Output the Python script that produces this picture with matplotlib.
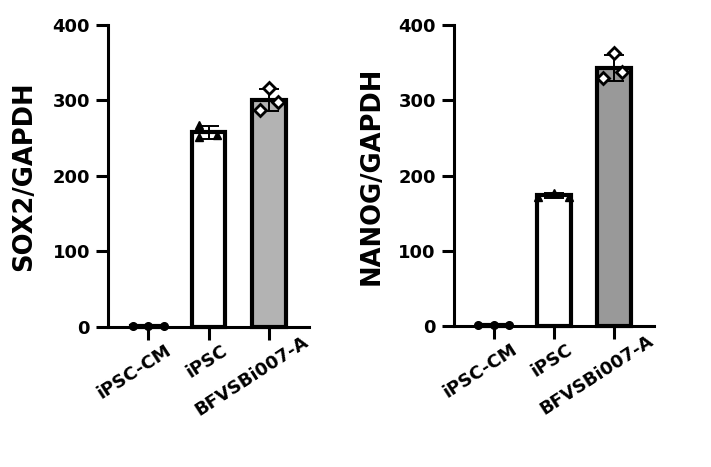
import numpy as np
import matplotlib
matplotlib.use("Agg")
import matplotlib.pyplot as plt

plt.rcParams['font.family'] = ['DejaVu Sans']
plt.rcParams['font.weight'] = 'bold'

# data
groups = ["iPSC-CM", "iPSC", "BFVSBi007-A"]
sox2_cm = [1.0, 0.8, 1.1]
sox2_ipsc = [268, 252, 254]
sox2_bfv = [287, 316, 298]
nanog_cm = [1.0, 0.9, 1.1]
nanog_ipsc = [172, 177, 172]
nanog_bfv = [329, 363, 337]
yticks = [0, 100, 200, 300, 400]

# styling
jitter_left = [[-0.25, 0.0, 0.26], [-0.15, -0.15, 0.14], [-0.15, 0.0, 0.15]]
jitter_right = [[-0.26, 0.0, 0.25], [-0.27, 0.0, 0.25], [-0.18, 0.0, 0.14]]
markers = [dict(marker='o', ms=5.5, mfc='black', mec='black'),
           dict(marker='^', ms=6, mfc='black', mec='black'),
           dict(marker='D', ms=6, mfc='white', mec='black', mew=2)]
label_shift = [(14.8, -14.8), (11.5, -14.8), (26.6, -8.5)]  # points, end of rotated label vs tick
label_angle = 33


def panel(ax, series, ylabel, grey, jitter):
    x = np.arange(len(groups))
    means = [np.mean(s) for s in series]
    sds = [np.std(s, ddof=1) for s in series]
    ax.bar(x, means, width=0.56, color=['white', 'white', grey],
           edgecolor='black', linewidth=3, zorder=2, clip_on=False)
    ax.errorbar(x, means, yerr=sds, fmt='none', ecolor='black',
                elinewidth=1.4, capsize=7, capthick=1.4, zorder=3)
    for i, s in enumerate(series):
        ax.plot(x[i] + np.array(jitter[i]), s, ls='none', zorder=4,
                clip_on=False, **markers[i])
    ax.set_xlim(-0.667, 2.667)
    ax.set_ylim(0, 400)
    ax.set_yticks(yticks)
    ax.set_xticks(x)
    ax.set_xticklabels([])
    for i, g in enumerate(groups):
        ax.annotate(g, xy=(x[i], 0), xycoords=ax.get_xaxis_transform(),
                    xytext=label_shift[i], textcoords='offset points',
                    ha='right', va='center_baseline', rotation=label_angle,
                    rotation_mode='anchor', fontsize=13, fontweight='bold')
    for side in ['top', 'right']:
        ax.spines[side].set_visible(False)
    for side in ['left', 'bottom']:
        ax.spines[side].set_linewidth(2.2)
    ax.tick_params(width=2.2, length=9, labelsize=13, pad=4)
    ax.set_ylabel(ylabel, fontsize=18.5, fontweight='bold', va='center')


fig = plt.figure(figsize=(7.11, 4.67), dpi=100)
ax1 = fig.add_axes([0.1519, 0.2998, 0.2827, 0.6467])
ax2 = fig.add_axes([0.6385, 0.3019, 0.2813, 0.6445])

panel(ax1, [sox2_cm, sox2_ipsc, sox2_bfv], "SOX2/GAPDH", '#b3b3b3', jitter_left)
panel(ax2, [nanog_cm, nanog_ipsc, nanog_bfv], "NANOG/GAPDH", '#999999', jitter_right)
ax1.yaxis.set_label_coords(-0.418, 0.5)
ax2.yaxis.set_label_coords(-0.41, 0.5)

fig.savefig("out.png", dpi=100)
